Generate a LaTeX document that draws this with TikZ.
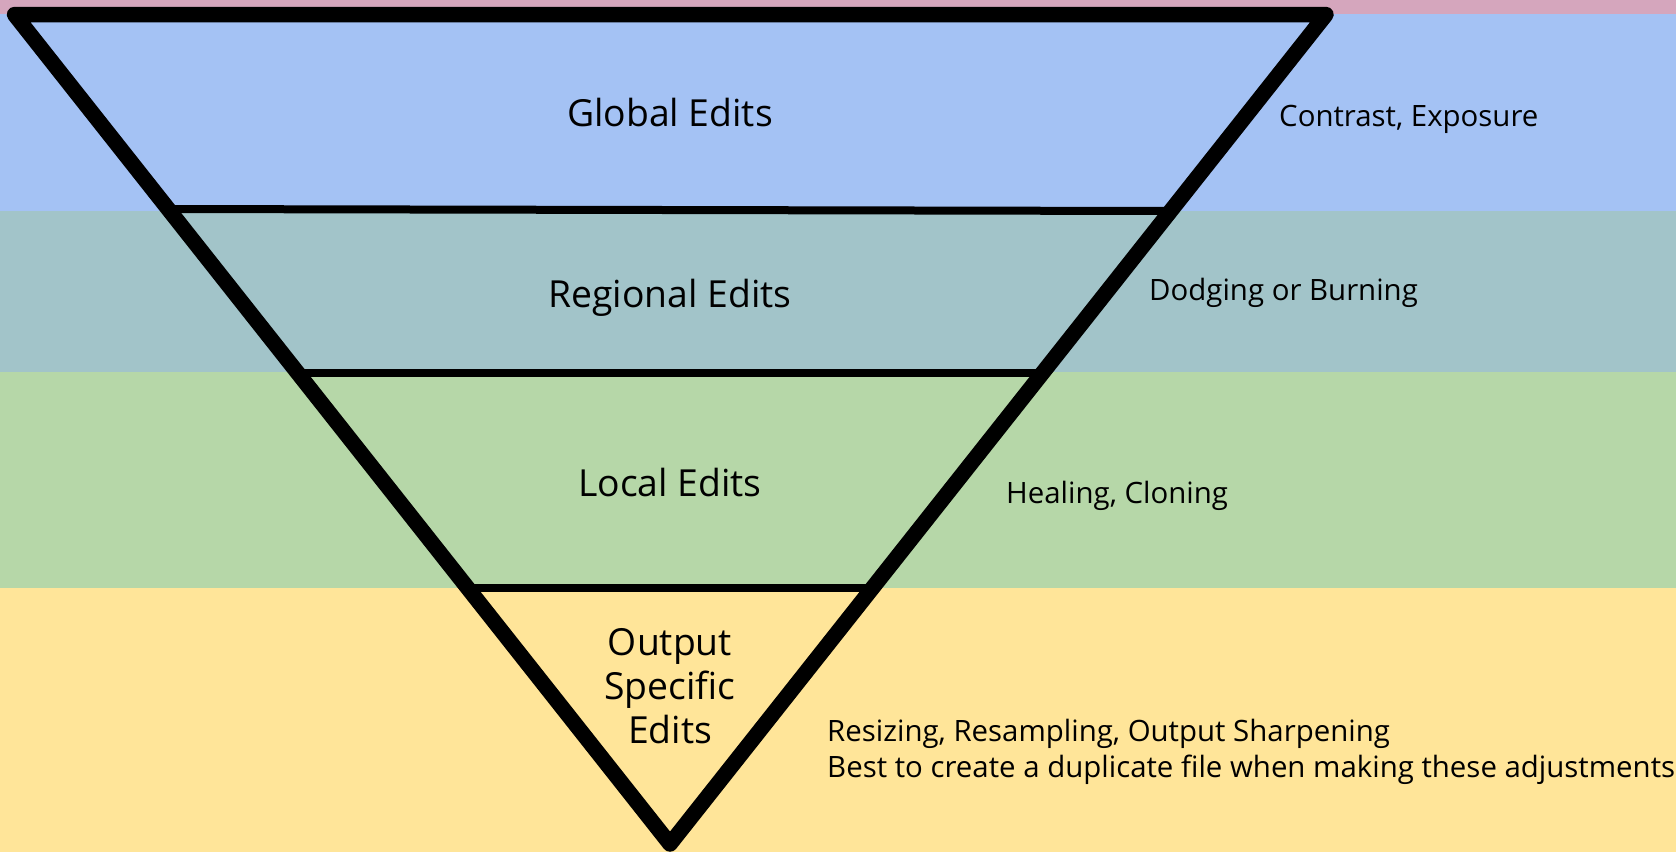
\documentclass[tikz,border=0pt]{standalone}
\usepackage{fontspec}
\setmainfont{Open Sans}
\usetikzlibrary{calc}
\definecolor{bandpink}{HTML}{D5A6BD}
\definecolor{bandblue}{HTML}{A4C2F4}
\definecolor{bandteal}{HTML}{A2C4C9}
\definecolor{bandgreen}{HTML}{B6D7A8}
\definecolor{bandyellow}{HTML}{FFE599}
\begin{document}
\begin{tikzpicture}[x=1pt,y=-1pt,
  level/.style={font=\fontsize{37.3}{44}\selectfont, inner sep=0pt, anchor=base},
  note/.style={font=\fontsize{29.4}{35.5}\selectfont, inner sep=0pt, anchor=base west, align=left},
  divider/.style={line width=8pt},
  funnel/.style={line width=15.5pt, line join=round}]
  \useasboundingbox (0,0) rectangle (1676,852);
  % horizontal colour bands
  \fill[bandpink]   (0,0)     rectangle (1676,13.5);
  \fill[bandblue]   (0,13.5)  rectangle (1676,211);
  \fill[bandteal]   (0,211)   rectangle (1676,372);
  \fill[bandgreen]  (0,372)   rectangle (1676,588);
  \fill[bandyellow] (0,588)   rectangle (1676,852);
  % funnel corners
  \coordinate (tl) at (14.5,14.5);
  \coordinate (tr) at (1326,14.5);
  \coordinate (ap) at (670,844);
  % dividers between levels
  \draw[divider] ($(tl)!0.2345!(ap)$) -- ($(tr)!0.2369!(ap)$);
  \draw[divider] ($(tl)!0.4316!(ap)$) -- ($(tr)!0.4316!(ap)$);
  \draw[divider] ($(tl)!0.6914!(ap)$) -- ($(tr)!0.6914!(ap)$);
  % funnel outline
  \draw[funnel] (tl) -- (tr) -- (ap) -- cycle;
  % level names
  \node[level] (global) at (670,126.7) {Global Edits};
  \node[level] (regional) at (670,307.7) {Regional Edits};
  \node[level] (local) at (670,496.7) {Local Edits};
  \node[level, align=center, anchor=north] (output) at (670,628) {Output\\Specific\\Edits};
  % examples for each level
  \node[note] (n1) at (1279,126) {Contrast, Exposure};
  \node[note] (n2) at (1149,300) {Dodging or Burning};
  \node[note] (n3) at (1006,503.3) {Healing, Cloning};
  \node[note] (n4) at (827,741.7) {Resizing, Resampling, Output Sharpening};
  \node[note] (n5) at (827,777.2) {Best to create a duplicate file when making these adjustments};
\end{tikzpicture}
\end{document}
